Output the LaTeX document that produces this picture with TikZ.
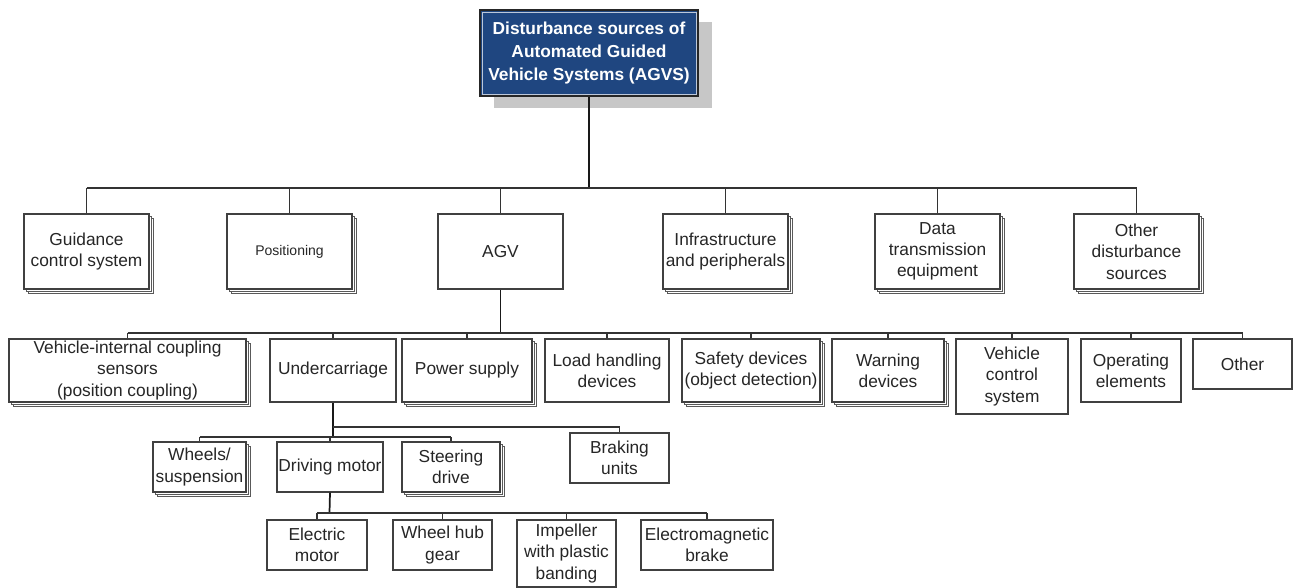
\documentclass[tikz,border=0pt]{standalone}
\usepackage{fontspec}
\setmainfont{Liberation Sans}
\usetikzlibrary{shadows}
\definecolor{rootblue}{RGB}{31,70,128}
\begin{document}
\begin{tikzpicture}[x=0.75pt,y=-0.75pt,
  sz/.style 2 args={minimum width=#1*0.75pt, minimum height=#2*0.75pt},
  box/.style={draw=black!75, line width=0.8pt, fill=white, inner sep=0pt, align=center,
              font=\fontsize{13}{16}\selectfont, text=black!85},
  stack/.style={
    general shadow={shadow xshift=3.6pt, shadow yshift=-3.6pt, draw=black!65, fill=white, line width=0.7pt},
    general shadow={shadow xshift=1.8pt, shadow yshift=-1.8pt, draw=black!65, fill=white, line width=0.7pt}},
  conn/.style={draw=black!80, line width=0.8pt},
  trunk/.style={draw=black!90, line width=1.3pt},
  rootbox/.style={draw=black!85, line width=1.6pt, fill=rootblue, text=white, align=center,
                  font=\fontsize{13}{17}\bfseries\selectfont, inner sep=0pt,
                  drop shadow={shadow xshift=10.5pt, shadow yshift=-9pt, fill=black!22, opacity=1}}
]
\useasboundingbox (0,0) rectangle (1293,588);

% root
\node[rootbox, sz={218}{86}] (root) at (589,53) {Disturbance sources of\\Automated Guided\\Vehicle Systems (AGVS)};
\draw[white!70!rootblue, line width=0.5pt] ([xshift=2.2pt,yshift=-2.2pt]root.north west) rectangle ([xshift=-2.2pt,yshift=2.2pt]root.south east);

% level 1
\node[box, stack, sz={125}{75}] (g)   at (86.5,251.5)  {Guidance\\control system};
\node[box, stack, sz={125}{75}, font=\fontsize{10.5}{13}\selectfont] (p) at (289.5,251.5) {Positioning};
\node[box, sz={125}{75}]        (agv) at (500.5,251.5) {AGV};
\node[box, stack, sz={125}{75}] (inf) at (725.5,251.5) {Infrastructure\\and peripherals};
\node[box, stack, sz={125}{75}] (dat) at (937.5,251.5) {Data\\transmission\\equipment};
\node[box, stack, sz={125}{75}] (oth) at (1136.5,251.5) {Other\\disturbance\\sources};

% level 2
\node[box, stack, sz={237}{63}] (veh) at (127.5,370.5) {Vehicle-internal coupling\\sensors\\(position coupling)};
\node[box, sz={126}{63}]        (und) at (333,370.5)   {Undercarriage};
\node[box, stack, sz={130}{63}] (pow) at (467,370.5)   {Power supply};
\node[box, sz={124}{63}]        (load) at (607,370.5)  {Load handling\\devices};
\node[box, stack, sz={138}{63}] (saf) at (751,370.5)   {Safety devices\\(object detection)};
\node[box, stack, sz={112}{63}] (warn) at (888,370.5)  {Warning\\devices};
\node[box, sz={112}{75}]        (vcs) at (1012,376.5)  {Vehicle\\control\\system};
\node[box, sz={100}{63}]        (ope) at (1131,370.5)  {Operating\\elements};
\node[box, sz={99}{50}]         (other) at (1242.5,364) {Other};

% level 3
\node[box, stack, sz={93}{50}]  (whe) at (199.5,467)   {Wheels/\\suspension};
\node[box, sz={106}{50}]        (drv) at (330,467)     {Driving motor};
\node[box, stack, sz={98}{50}]  (ste) at (451,467)     {Steering\\drive};
\node[box, sz={99}{50}]         (brk) at (619.5,458)   {Braking\\units};

% level 4
\node[box, sz={100}{50}]  (ele) at (317,545)   {Electric\\motor};
\node[box, sz={99}{50}]   (hub) at (442.5,545) {Wheel hub\\gear};
\node[box, sz={99}{67}]   (imp) at (566.5,553.5) {Impeller\\with plastic\\banding};
\node[box, sz={132}{50}]  (emb) at (707,545)   {Electromagnetic\\brake};

% buses
\coordinate (b1) at (589,188);
\coordinate (b2) at (500.5,333);
\coordinate (b3a) at (333,427);
\coordinate (b3b) at (333,437);
\coordinate (b4) at (329.5,513);

% connectors level 1
\draw[trunk] (root.south) -- (b1);
\draw[conn] (g.north |- b1) -- (oth.north |- b1);
\foreach \n in {g,p,agv,inf,dat,oth} \draw[conn] (\n.north) -- (\n.north |- b1);

% connectors level 2
\draw[trunk] (agv.south) -- (b2);
\draw[conn] (veh.north |- b2) -- (other.north |- b2);
\foreach \n in {veh,und,pow,load,saf,warn,vcs,ope,other} \draw[conn] (\n.north) -- (\n.north |- b2);

% connectors level 3
\draw[trunk] (und.south) -- (b3b);
\draw[conn] (b3a) -- (brk.north |- b3a) -- (brk.north);
\draw[conn] (whe.north |- b3b) -- (ste.north |- b3b);
\foreach \n in {whe,drv,ste} \draw[conn] (\n.north) -- (\n.north |- b3b);

% connectors level 4
\draw[trunk] (drv.south) -- (b4);
\draw[conn] (ele.north |- b4) -- (emb.north |- b4);
\foreach \n in {ele,hub,imp,emb} \draw[conn] (\n.north) -- (\n.north |- b4);
\end{tikzpicture}
\end{document}
